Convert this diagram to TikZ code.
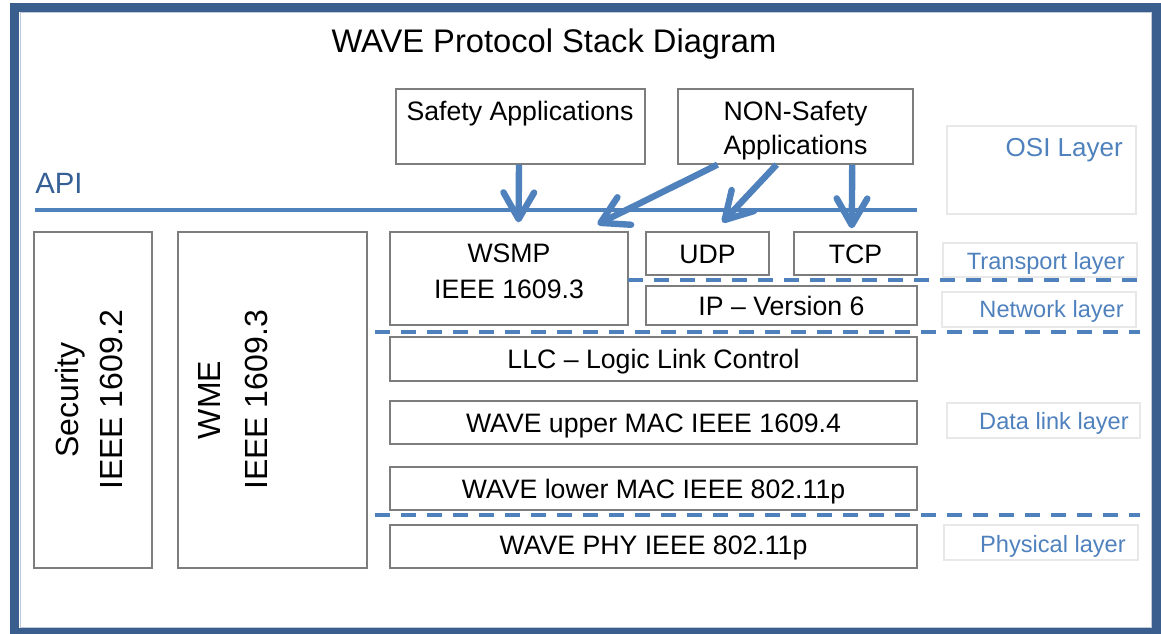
\documentclass[tikz,border=0pt]{standalone}
\usepackage{fontspec}
\setmainfont{Liberation Sans}
\usetikzlibrary{arrows.meta,fit,calc}
\definecolor{frameblue}{RGB}{58,95,142}
\definecolor{frameline}{RGB}{190,202,218}
\definecolor{accent}{RGB}{79,129,189}
\definecolor{apiblue}{RGB}{54,95,150}
\definecolor{boxgray}{RGB}{125,125,125}
\definecolor{faint}{RGB}{232,232,232}
\begin{document}
\begin{tikzpicture}[x=0.75pt,y=-0.75pt,
  box/.style={draw=boxgray, line width=1pt, inner sep=0pt},
  ctxt/.style={font=\fontsize{20}{24}\selectfont, text height=14.3pt, text depth=0pt, inner sep=0pt, anchor=center},
  lbl/.style={font=\fontsize{20}{24}\selectfont, anchor=base, inner sep=0pt},
  vlbl/.style={font=\fontsize{24}{28}\selectfont, anchor=base, inner sep=0pt, rotate=90},
  layerbox/.style={draw=faint, line width=0.8pt, inner sep=0pt},
  layertxt/.style={font=\fontsize{17.7}{21}\selectfont, text=accent, anchor=base east, inner sep=0pt},
  arr/.style={draw=accent, line width=4.8pt, -{Straight Barb[length=20pt,width=23pt,round]}},
  sepline/.style={draw=accent, line width=3pt, dash pattern=on 11.25pt off 8.25pt},
]
\useasboundingbox (0,0) rectangle (1161,634);
% frame
\draw[frameblue, line width=6.75pt] (14.5,7.5) rectangle (1156.5,632.5);
\draw[frameline, line width=0.75pt] (20,13) rectangle (1151,627);

% title
\node[font=\fontsize{24.5}{29}\selectfont, anchor=base, inner sep=0pt] (title) at (554,53) {WAVE Protocol Stack Diagram};

% applications
\node[box, fit={(396,89) (645,164)}] (safety) {};
\node[lbl] (safetyt) at (520,121) {Safety Applications};
\node[box, fit={(678,89) (913,164)}] (nonsafety) {};
\node[lbl] (nonsafetyt1) at (795.5,121) {NON-Safety};
\node[lbl] (nonsafetyt2) at (795.5,155) {Applications};

% API
\node[font=\fontsize{22}{26}\selectfont, text=apiblue, anchor=base west, inner sep=0pt] (api) at (35,194) {API};
\draw[accent, line width=3.3pt] (35,210) -- (917,210);

% stack
\node[box, fit={(390,232) (628,325)}] (wsmp) {};
\node[lbl] (wsmpt1) at (509,263) {WSMP};
\node[lbl] (wsmpt2) at (509,299) {IEEE 1609.3};
\node[box, fit={(646,232) (769,275)}] (udp) {};
\node[ctxt] (udpt) at (udp.center) {UDP};
\node[box, fit={(794,232) (917,275)}] (tcp) {};
\node[ctxt] (tcpt) at (tcp.center) {TCP};
\node[box, fit={(646,286) (917,325)}] (ip) {};
\node[ctxt] (ipt) at (ip.center) {IP – Version 6};
\node[box, fit={(390,337) (917,381)}] (llc) {};
\node[ctxt] (llct) at (llc.center) {LLC – Logic Link Control};
\node[box, fit={(390,401) (917,444)}] (umac) {};
\node[ctxt] (umact) at (umac.center) {WAVE upper MAC IEEE 1609.4};
\node[box, fit={(390,467) (917,510)}] (lmac) {};
\node[ctxt] (lmact) at (lmac.center) {WAVE lower MAC IEEE 802.11p};
\node[box, fit={(390,525) (917,568)}] (phy) {};
\node[ctxt] (phyt) at ($(phy.center)+(0,-2)$) {WAVE PHY IEEE 802.11p};

% side blocks
\node[box, fit={(34,232) (152,568)}] (sec) {};
\node[vlbl] (sect1) at (78,400) {Security};
\node[vlbl] (sect2) at (122,400) {IEEE 1609.2};
\node[box, fit={(178,232) (367,568)}] (wme) {};
\node[vlbl] (wmet1) at (220,400) {WME};
\node[vlbl] (wmet2) at (267,400) {IEEE 1609.3};

% OSI layer labels
\node[layerbox, fit={(947,126) (1136,214)}] (osi) {};
\node[layertxt, font=\fontsize{19.5}{23}\selectfont] (osit) at (1123,157) {OSI Layer};
\node[layerbox, fit={(943,243) (1137,277)}] (transport) {};
\node[layertxt] (transportt) at (1125,270) {Transport layer};
\node[layerbox, fit={(942,292) (1136,327)}] (network) {};
\node[layertxt] (networkt) at (1124,318) {Network layer};
\node[layerbox, fit={(947,403) (1140,438)}] (datalink) {};
\node[layertxt] (datalinkt) at (1129,430) {Data link layer};
\node[layerbox, fit={(944,525) (1138,560)}] (physical) {};
\node[layertxt] (physicalt) at (1126,552) {Physical layer};

% layer separators
\draw[sepline] (628,280) -- (1140,280);
\draw[sepline] (375,332) -- (1140,332);
\draw[sepline] (375,515) -- (1140,515);

% arrows
\draw[arr] ($(safety.south west)!0.494!(safety.south east)$) -- ($(wsmp.north west)!0.54!(wsmp.north east)+(0,-9)$);
\draw[arr] ($(nonsafety.south west)!0.17!(nonsafety.south east)$) -- ($(wsmp.north west)!0.87!(wsmp.north east)+(0,-7)$);
\draw[arr] ($(nonsafety.south west)!0.42!(nonsafety.south east)$) -- ($(udp.north west)!0.62!(udp.north east)+(0,-9)$);
\draw[arr] ($(nonsafety.south west)!0.74!(nonsafety.south east)$) -- ($(tcp.north west)!0.47!(tcp.north east)+(0,-3)$);
\end{tikzpicture}
\end{document}
